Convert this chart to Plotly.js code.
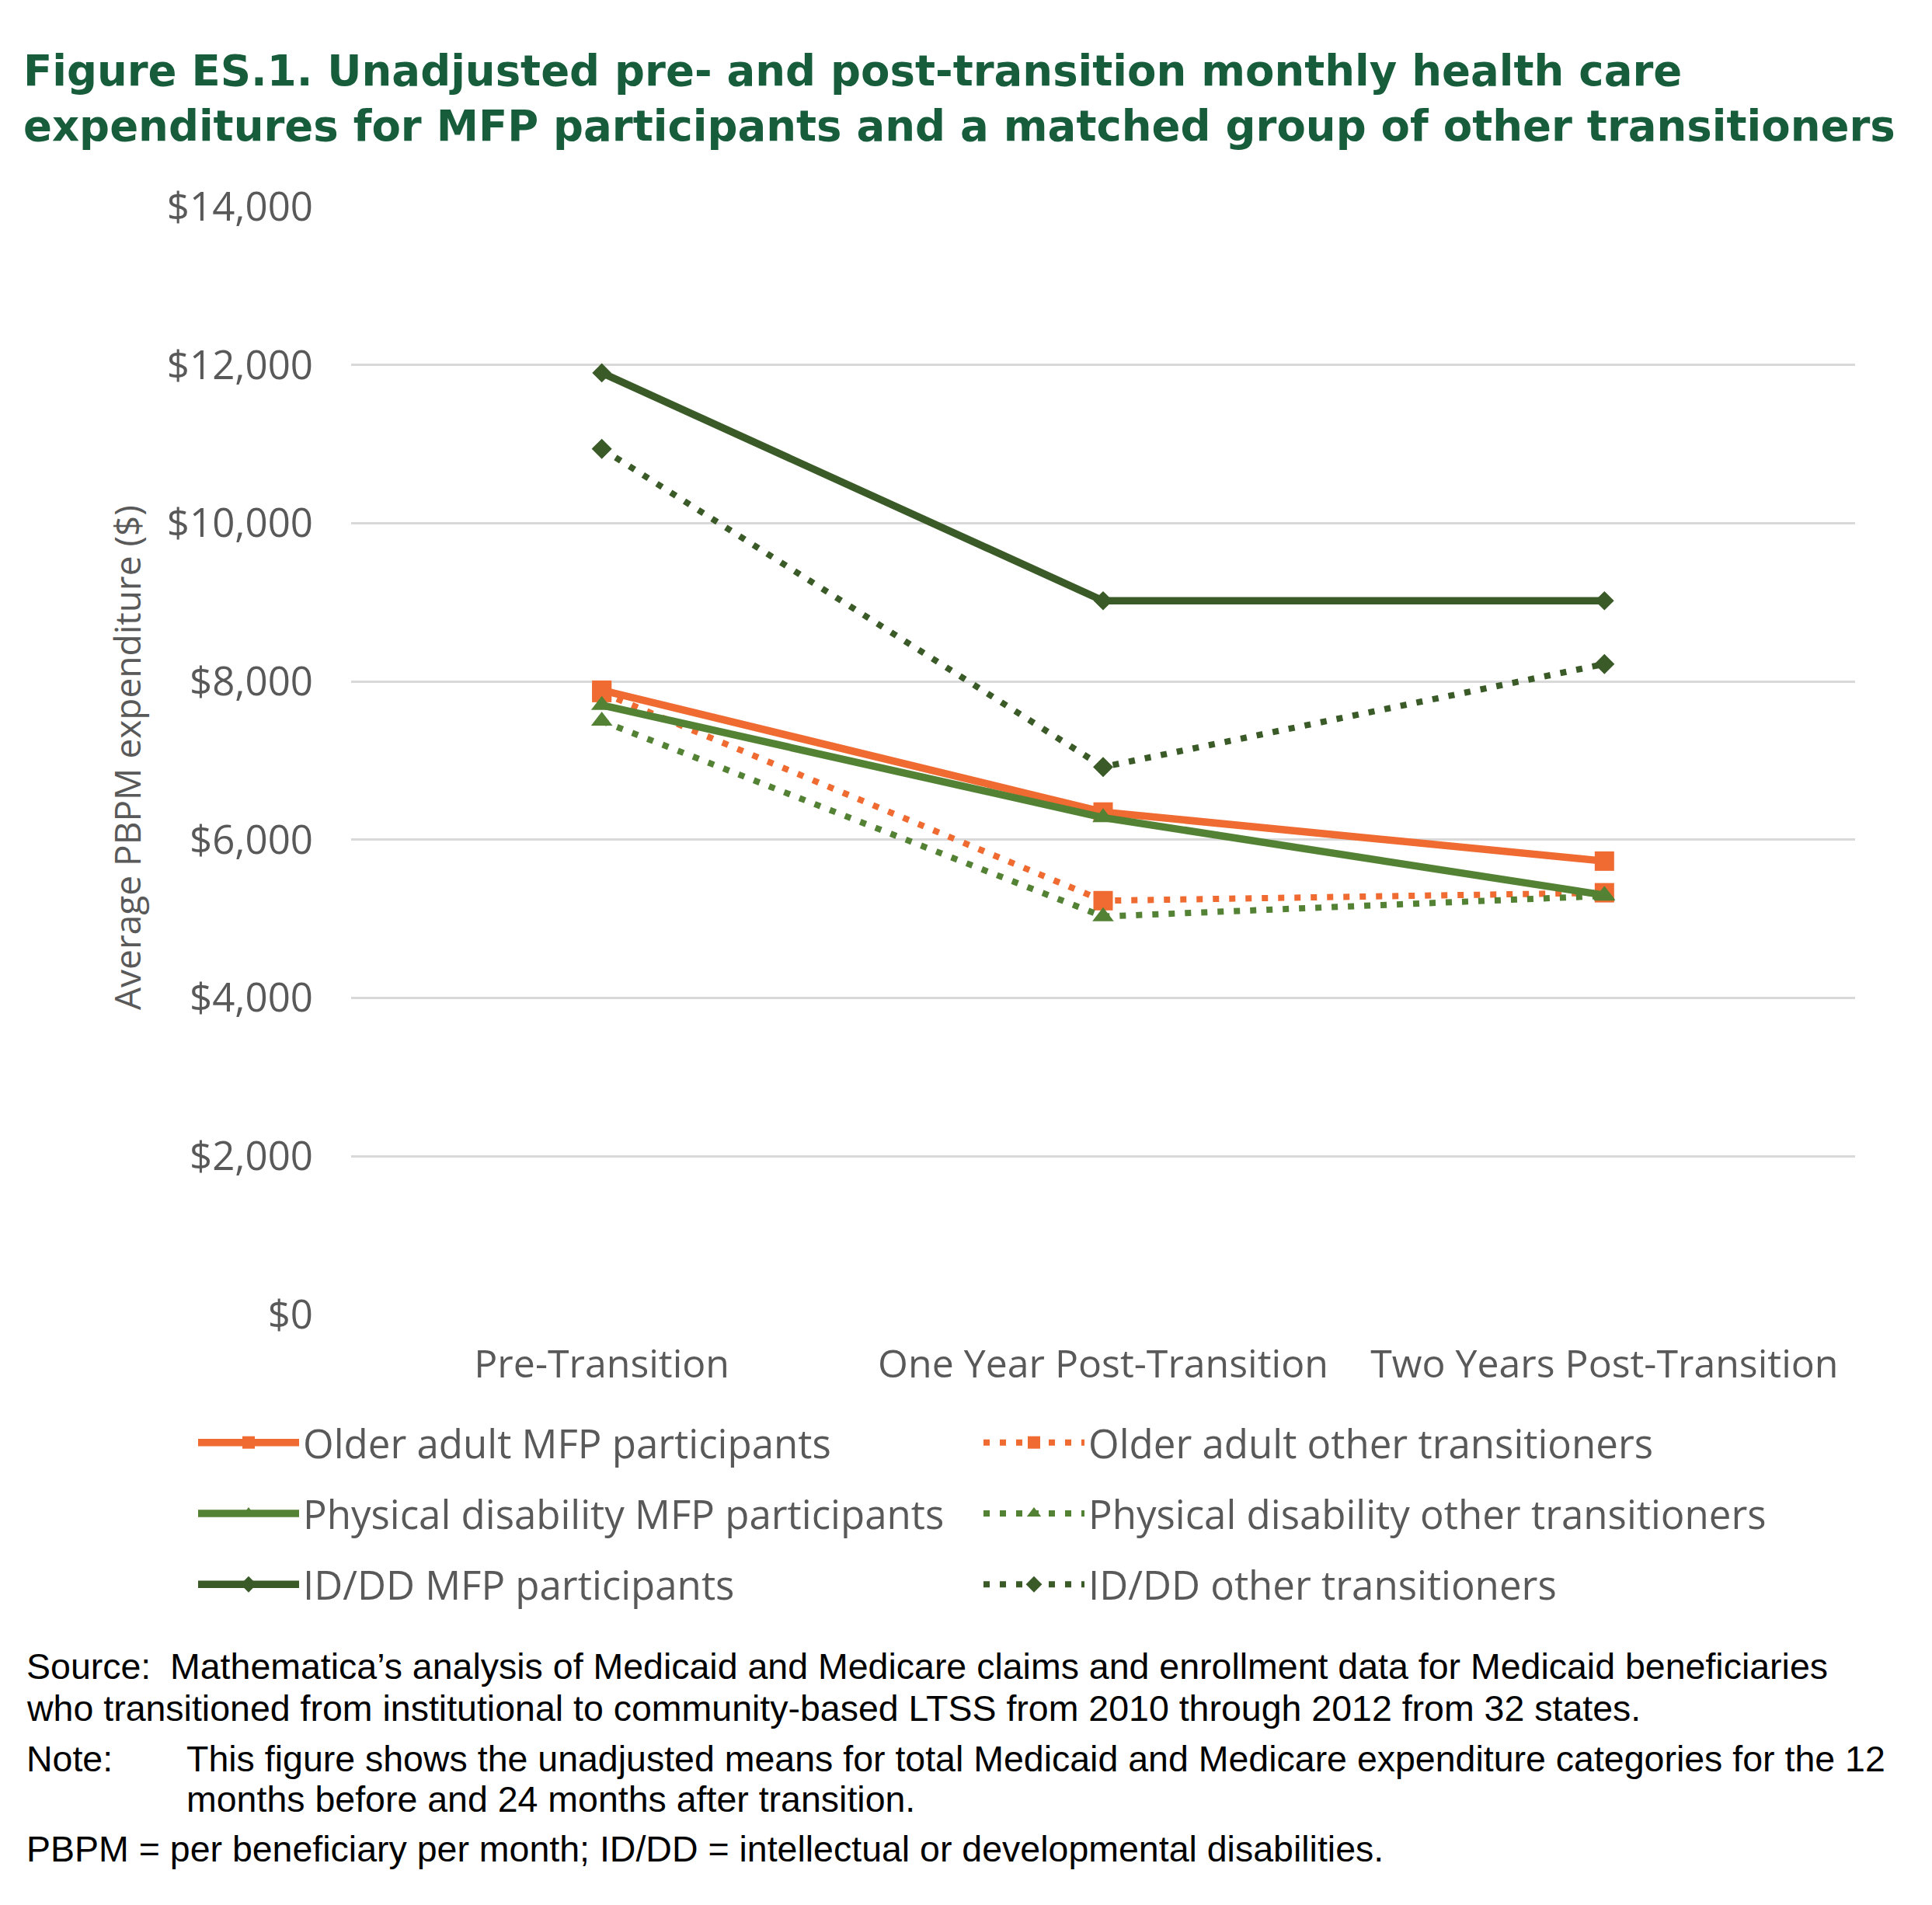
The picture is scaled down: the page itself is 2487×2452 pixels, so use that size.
<!DOCTYPE html>
<html>
<head>
<meta charset="utf-8">
<script src="https://cdn.plot.ly/plotly-3.0.1.min.js"></script>
<style>html,body{margin:0;padding:0;background:#fff;}</style>
</head>
<body>
<div id="chart" style="width:2487px;height:2452px;"></div>
<script>
// ---- data ----
const categories = ['Pre-Transition', 'One Year Post-Transition', 'Two Years Post-Transition'];
const olderMFP   = [7890, 6350, 5730];
const olderOther = [7860, 5230, 5330];
const physMFP    = [7700, 6280, 5300];
const physOther  = [7500, 5030, 5290];
const iddMFP     = [11900, 9020, 9020];
const iddOther   = [10940, 6920, 8220];
const seriesNames = [
  'Older adult MFP participants', 'Older adult other transitioners',
  'Physical disability MFP participants', 'Physical disability other transitioners',
  'ID/DD MFP participants', 'ID/DD other transitioners'
];
const yTickVals = [0, 2000, 4000, 6000, 8000, 10000, 12000, 14000];
const yTickText = yTickVals.map(v => '$' + v.toLocaleString('en-US'));
const yTitle = 'Average PBPM expenditure ($)';

// ---- styling ----
const W = 2487, H = 2452;
const M = {l: 452, r: 99, t: 266, b: 760};
const PW = W - M.l - M.r, PH = H - M.t - M.b;
const px = X => (X - M.l) / PW;
const py = Y => (H - M.b - Y) / PH;

const ORANGE = '#EF6B31', GREEN = '#548235', DKGREEN = '#3A5A27';
const DOT = '8px,13px';

function tr(name, y, color, dash, symbol, size, legend, grp) {
  return {
    type: 'scatter', mode: 'lines+markers', x: categories, y: y, name: name,
    line: {color: color, width: dash ? 8 : 9.5, dash: dash || 'solid'},
    marker: {symbol: symbol, size: size, color: color},
    legend: legend, legendgroup: grp, hoverinfo: 'skip'
  };
}

const data = [
  tr(seriesNames[0], olderMFP, ORANGE, null, 'square', 25, 'legend', 'g0'),
  tr(seriesNames[1], olderOther, ORANGE, DOT, 'square', 25, 'legend2', 'g1'),
  tr(seriesNames[2], physMFP, GREEN, null, 'triangle-up', 24, 'legend', 'g2'),
  tr(seriesNames[3], physOther, GREEN, DOT, 'triangle-up', 24, 'legend2', 'g3'),
  tr(seriesNames[4], iddMFP, DKGREEN, null, 'diamond', 19, 'legend', 'g4'),
  tr(seriesNames[5], iddOther, DKGREEN, DOT, 'diamond', 20, 'legend2', 'g5')
];

function leg(xl, yc) {
  return {
    orientation: 'v', xref: 'container', yref: 'container',
    x: xl / W, xanchor: 'left', y: 1 - yc / H, yanchor: 'middle',
    itemwidth: 130, tracegroupgap: 22, traceorder: 'grouped',
    font: {family: 'Open Sans', size: 51, color: '#595959'},
    bgcolor: 'rgba(0,0,0,0)', borderwidth: 0, itemclick: false, itemdoubleclick: false
  };
}

const noteFont = {family: 'Liberation Sans, Arial, sans-serif', size: 46.5, color: '#000000'};
function note(text, X, Y) {
  return {text: text, xref: 'paper', yref: 'paper', x: px(X), y: py(Y),
          xanchor: 'left', yanchor: 'middle', showarrow: false, font: noteFont, align: 'left'};
}

const layout = {
  width: W, height: H,
  margin: {l: M.l, r: M.r, t: M.t, b: M.b, pad: 0, autoexpand: false},
  paper_bgcolor: '#ffffff', plot_bgcolor: '#ffffff',
  font: {family: 'Open Sans', color: '#595959'},
  title: {
    text: 'Figure ES.1. Unadjusted pre- and post-transition monthly health care<br>expenditures for MFP participants and a matched group of other transitioners',
    font: {family: 'DejaVu Sans', size: 54.5, color: '#175D3C', weight: 'bold'},
    xref: 'container', yref: 'container', x: 30 / W, xanchor: 'left',
    y: 1 - 110 / H, yanchor: 'top'
  },
  xaxis: {
    type: 'category', range: [-0.5, 2.5], showgrid: false, zeroline: false, showline: false,
    ticks: '', tickfont: {family: 'Open Sans', size: 50, color: '#595959'},
    ticklabelstandoff: 30, automargin: false, fixedrange: true
  },
  yaxis: {
    range: [0, 14000], tickmode: 'array', tickvals: yTickVals, ticktext: yTickText,
    gridcolor: '#d9d9d9', gridwidth: 3, zeroline: false, showline: false,
    ticks: '', tickfont: {family: 'Open Sans', size: 51, color: '#595959'},
    ticklabelstandoff: 48, automargin: false, fixedrange: true
  },
  showlegend: true,
  legend: leg(250, 1948), legend2: leg(1261, 1948),
  annotations: [
    {text: yTitle, xref: 'paper', yref: 'paper', x: px(163), y: py(975), textangle: -90,
     xanchor: 'center', yanchor: 'middle', showarrow: false,
     font: {family: 'Open Sans', size: 46, color: '#595959'}},
    note('Source:', 32, 2145),
    note('Mathematica’s analysis of Medicaid and Medicare claims and enrollment data for Medicaid beneficiaries', 217, 2145),
    note('who transitioned from institutional to community-based LTSS from 2010 through 2012 from 32 states.', 32, 2199),
    note('Note:', 32, 2264),
    note('This figure shows the unadjusted means for total Medicaid and Medicare expenditure categories for the 12', 238, 2264),
    note('months before and 24 months after transition.', 238, 2316),
    note('PBPM = per beneficiary per month; ID/DD = intellectual or developmental disabilities.', 32, 2380)
  ]
};

Plotly.newPlot('chart', data, layout, {displayModeBar: false, staticPlot: true});
</script>
</body>
</html>
